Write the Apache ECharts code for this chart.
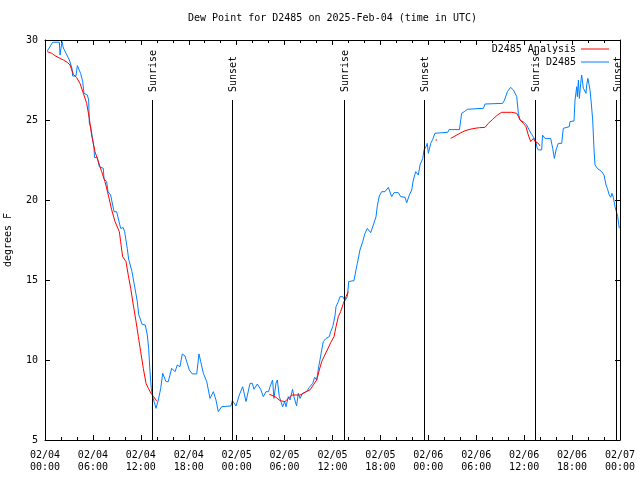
<!DOCTYPE html>
<html>
<head>
<meta charset="utf-8">
<script src="https://cdn.jsdelivr.net/npm/echarts@6/dist/echarts.min.js"></script>
<style>html,body{margin:0;padding:0;background:#fff;}#c{width:640px;height:480px;}</style>
</head>
<body>
<div id="c"></div>
<script>
// hours since 2025-02-04 00:00 UTC
const obsHours = [0.29,0.96,1.8,1.88,2.13,2.3,2.63,3.05,3.38,3.46,3.88,4.05,4.3,4.47,4.72,4.88,5.3,5.47,5.55,5.72,6.14,6.2,6.55,6.8,7.3,7.39,7.72,7.89,8.22,8.47,8.64,8.97,9.22,9.47,9.8,9.97,10.3,10.47,10.89,11.23,11.56,11.73,11.98,12.15,12.56,12.81,12.98,13.15,13.31,13.48,13.9,14.19,14.49,14.74,15.15,15.44,15.86,16.28,16.57,16.9,17.19,17.53,18.07,18.44,19.0,19.28,19.5,19.83,20.25,20.66,21.08,21.41,21.7,22.12,22.33,23.29,23.46,23.92,24.33,24.75,25.17,25.67,25.96,26.17,26.59,27.0,27.34,27.67,28.0,28.17,28.5,28.67,28.92,29.09,29.34,29.76,30.01,30.18,30.47,30.68,31.0,31.17,31.5,31.72,31.93,32.26,32.76,33.1,33.52,33.77,34.02,34.27,34.43,34.65,34.85,35.19,35.6,35.77,36.03,36.31,36.44,36.73,36.94,37.28,37.57,37.86,38.03,38.19,38.69,38.94,39.11,39.44,39.78,40.07,40.36,40.78,41.11,41.45,41.61,41.86,42.16,42.57,42.99,43.41,43.7,44.24,44.54,45.08,45.29,45.62,45.92,46.12,46.42,46.75,46.96,47.3,47.46,47.71,47.87,48.0,48.3,48.55,48.83,49.05,50.42,50.59,51.9,52.17,52.5,52.9,54.9,55.1,57.3,57.5,57.9,58.3,58.65,59.07,59.27,59.48,60.0,60.3,60.6,60.94,61.2,61.45,61.6,61.77,62.19,62.3,62.6,63.32,63.57,63.78,63.99,64.28,64.7,64.9,65.1,65.64,65.74,66.24,66.37,66.58,66.66,66.79,66.91,67.08,67.2,67.41,67.62,67.74,67.83,67.98,68.24,68.37,68.58,68.75,68.87,69.16,69.41,69.71,70.0,70.25,70.41,70.66,70.84,71.0,71.16,71.38,71.58,71.71,71.91];
const obsValues = [29.31,29.86,29.86,29.06,29.9,29.5,29.17,28.75,28.23,27.75,27.75,28.4,28.4,27.9,27.4,26.67,26.56,26.25,24.8,24.58,23.23,22.65,22.65,22.08,21.98,21.31,21.15,20.52,20.31,20.31,19.27,19.27,18.75,18.23,18.27,18.02,16.98,16.31,15.52,14.58,13.65,12.85,12.81,12.23,12.19,11.56,10.73,9.27,8.23,7.71,6.98,7.5,8.23,9.17,8.65,8.65,9.48,9.27,9.69,9.58,10.38,10.25,9.38,9.13,9.13,10.38,9.9,9.17,8.65,7.6,8.02,7.5,6.77,7.08,7.13,7.13,7.46,7.13,7.81,8.33,7.4,8.54,8.54,8.17,8.5,8.17,7.71,8.02,8.02,8.33,8.75,7.6,8.54,8.75,7.71,7.08,7.4,7.08,7.71,7.5,8.17,7.71,7.13,7.92,7.6,7.92,8.02,8.29,8.54,8.92,8.75,9.58,10.0,10.63,11.15,11.35,11.46,11.77,12.08,12.75,13.33,13.65,13.96,13.96,13.71,13.96,14.9,14.96,14.96,15.63,16.04,16.88,17.4,17.92,18.23,17.96,18.44,18.96,19.63,20.25,20.52,20.52,20.79,20.21,20.46,20.46,20.21,20.17,19.83,20.31,20.63,21.25,21.77,21.56,22.19,22.6,23.13,23.33,23.54,22.92,23.54,23.79,24.17,24.23,24.23,24.4,24.4,25.42,25.52,25.67,25.73,26.0,26.04,26.2,26.77,27.04,26.88,26.46,25.42,25.0,24.85,24.7,24.4,24.1,23.9,23.7,23.3,23.13,23.13,24.06,23.85,23.85,23.23,22.6,23.13,23.54,23.54,24.48,24.58,24.58,24.9,24.94,26.25,27.08,26.46,27.5,26.35,27.29,27.81,26.98,26.88,26.67,27.19,27.6,26.88,26.25,25.0,23.13,22.19,21.98,21.88,21.77,21.56,20.94,20.73,20.31,20.17,20.42,20.17,19.58,19.5,18.96,18.23];

// analysis series; null marks a gap
const anaHours = [0.29,0.84,1.25,1.88,2.3,2.8,3.13,3.55,3.96,4.38,4.8,5.22,5.55,5.84,6.26,6.68,7.1,7.51,7.93,8.35,8.77,9.31,9.47,9.72,10.14,10.43,10.73,11.06,11.4,11.69,11.98,12.31,12.65,12.94,13.27,13.6,13.98,20,28.09,28.8,29.43,30.05,30.47,30.89,31.93,32.35,32.68,33.18,33.6,34.02,34.35,34.65,34.94,35.35,35.77,36.19,36.44,36.73,37.02,37.36,37.69,37.98,43,48.9,49.1,50,50.8,51.34,51.97,52.59,53.22,53.84,54.38,55.1,55.51,56.06,56.64,57.18,58.44,59.07,59.49,59.9,60.23,60.52,60.82,61.15,61.36,61.78,61.98];
const anaValues = [29.27,29.17,29.02,28.85,28.75,28.6,28.44,27.86,27.65,27.29,26.67,26.04,25.1,24.06,23.02,22.4,21.77,21.15,20.31,19.38,18.65,18.02,17.4,16.46,16.15,15.3,14.48,13.44,12.4,11.46,10.52,9.48,8.54,8.23,7.92,7.71,7.44,null,7.86,7.71,7.46,7.4,7.6,7.81,7.81,7.92,8.02,8.13,8.44,8.75,9.38,9.9,10.21,10.63,11.08,11.46,12.08,12.71,13.02,13.54,13.96,14.27,null,23.75,23.75,null,23.85,24.0,24.17,24.33,24.42,24.48,24.52,24.54,24.79,25.04,25.31,25.48,25.48,25.42,25.0,24.79,24.58,24.06,23.65,23.85,23.65,23.54,23.38];

const sunHours = [13.44, 23.42, 37.44, 47.5, 61.4, 71.58];
const sunNames = ['Sunrise','Sunset','Sunrise','Sunset','Sunrise','Sunset'];

const titleText = 'Dew Point for D2485 on 2025-Feb-04 (time in UTC)';
const seriesNames = ['D2485 Analysis', 'D2485'];
const yTicks = [5, 10, 15, 20, 25, 30];

const FONT = 'DejaVu Sans Mono';
const SUN_TOP = 26.25;

function fmtX(h) {
  const d = Math.floor(h / 24), hh = h % 24;
  const day = String(4 + d).padStart(2, '0');
  return '02/' + day + '\n' + String(hh).padStart(2, '0') + ':00';
}

const chart = echarts.init(document.getElementById('c'), null, {renderer: 'canvas'});
const txt = {fontFamily: FONT, fontSize: 10, color: '#000'};

const axisCommonX = {
  type: 'value', min: 0, max: 72, interval: 6,
  axisLine: {show: true, onZero: false, lineStyle: {color: '#000', width: 1}},
  axisTick: {show: true, inside: true, length: 5, lineStyle: {color: '#000'}},
  minorTick: {show: true, splitNumber: 3, length: 3, lineStyle: {color: '#000'}},
  splitLine: {show: false}
};
const axisCommonY = {
  type: 'value', min: yTicks[0], max: yTicks[yTicks.length - 1], interval: 5,
  axisLine: {show: true, onZero: false, lineStyle: {color: '#000', width: 1}},
  axisTick: {show: true, inside: true, length: 5, lineStyle: {color: '#000'}},
  splitLine: {show: false}
};

chart.setOption({
  animation: false,
  backgroundColor: '#fff',
  title: {text: titleText, left: 188, top: 13, padding: 0,
    textStyle: {fontFamily: FONT, fontSize: 10, fontWeight: 'normal', color: '#000'}},
  grid: {left: 45, right: 20, top: 40, bottom: 40, containLabel: false, outerBoundsMode: 'none'},
  legend: [
    {data: [seriesNames[0]], right: 31, top: 44, padding: 0, align: 'right', orient: 'vertical',
      icon: 'rect', itemWidth: 28, itemHeight: 1, itemGap: 0, textStyle: txt},
    {data: [seriesNames[1]], right: 31, top: 57, padding: 0, align: 'right', orient: 'vertical',
      icon: 'rect', itemWidth: 28, itemHeight: 1, itemGap: 0, textStyle: txt}
  ],
  xAxis: [
    Object.assign({}, axisCommonX, {position: 'bottom',
      axisLabel: Object.assign({}, txt, {margin: 9, lineHeight: 12, formatter: fmtX})}),
    Object.assign({}, axisCommonX, {position: 'top', axisLabel: {show: false}})
  ],
  yAxis: [
    Object.assign({}, axisCommonY, {position: 'left', name: 'degrees F', nameLocation: 'middle', nameGap: 32,
      nameTextStyle: txt, axisLabel: Object.assign({}, txt, {margin: 7})}),
    Object.assign({}, axisCommonY, {position: 'right', axisLabel: {show: false}})
  ],
  series: [
    {name: seriesNames[0], type: 'line', symbol: 'none', connectNulls: false,
      itemStyle: {color: '#ff0000'}, lineStyle: {color: '#ff0000', width: 1},
      data: anaHours.map((h, i) => [h, anaValues[i] === null ? '-' : anaValues[i]]), z: 3},
    {name: seriesNames[1], type: 'line', symbol: 'none',
      itemStyle: {color: '#0080ff'}, lineStyle: {color: '#0080ff', width: 1},
      data: obsHours.map((h, i) => [h, obsValues[i]]), z: 2,
      markLine: {silent: true, symbol: ['none', 'none'], animation: false,
        label: {show: false},
        lineStyle: {color: '#000', width: 1, type: 'solid'},
        data: sunHours.map(h => [{coord: [h, SUN_TOP]}, {coord: [h, yTicks[0]]}])}}
  ]
});

const g = sunHours.map((h, i) => {
  const p = chart.convertToPixel({xAxisIndex: 0, yAxisIndex: 0}, [h, SUN_TOP]);
  return {type: 'text', x: Math.round(p[0]) + 1, y: p[1] - 8, rotation: Math.PI / 2,
    style: {text: sunNames[i], font: '10px ' + FONT, fill: '#000', textAlign: 'left', textVerticalAlign: 'middle'}, z: 10};
});
chart.setOption({graphic: g});
</script>
</body>
</html>
